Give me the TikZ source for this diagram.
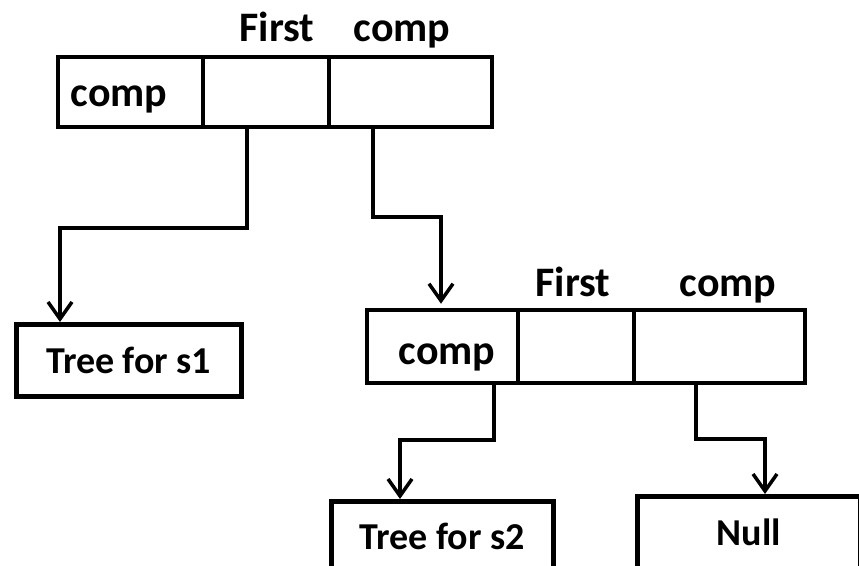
\documentclass[tikz,border=0pt]{standalone}
\usepackage{fontspec}
\setmainfont{Carlito}
\usetikzlibrary{arrows.meta,positioning,fit}

\begin{document}
\begin{tikzpicture}[
  x=1pt,y=-1pt,
  cell/.style={rectangle,inner sep=0pt,outer sep=0pt},
  rec/.style={rectangle,draw,line width=4.5pt,inner sep=0pt},
  sep/.style={line width=3.5pt},
  box/.style={rectangle,draw,line width=4.5pt,inner sep=0pt,anchor=north west,font=\fontsize{38}{41}\selectfont\bfseries},
  lbl/.style={font=\fontsize{42}{46}\selectfont\bfseries,inner sep=0pt,anchor=base},
  link/.style={-{Straight Barb[length=17pt,width=24pt]},line width=3.5pt}
]
  \useasboundingbox (0,0) rectangle (859,565);

  % first record: comp | First | comp
  \node[cell,minimum width=145,minimum height=70,anchor=north west] (r1a) at (58,57) {};
  \node[cell,minimum width=126,minimum height=70,right=0pt of r1a] (r1b) {};
  \node[cell,minimum width=163,minimum height=70,right=0pt of r1b] (r1c) {};
  \node[rec,fit=(r1a)(r1c)] (r1) {};
  \draw[sep] (r1a.north east) -- (r1a.south east);
  \draw[sep] (r1b.north east) -- (r1b.south east);
  \node[lbl] (r1name) at (119,106) {comp};
  \node[lbl] (r1first) at (277,41) {First};
  \node[lbl] (r1next) at (402,41) {comp};

  % second record
  \node[cell,minimum width=151,minimum height=73,anchor=north west] (r2a) at (367,310) {};
  \node[cell,minimum width=116,minimum height=73,right=0pt of r2a] (r2b) {};
  \node[cell,minimum width=171,minimum height=73,right=0pt of r2b] (r2c) {};
  \node[rec,fit=(r2a)(r2c)] (r2) {};
  \draw[sep] (r2a.north east) -- (r2a.south east);
  \draw[sep] (r2b.north east) -- (r2b.south east);
  \node[lbl] (r2name) at (447,364) {comp};
  \node[lbl] (r2first) at (573,296) {First};
  \node[lbl] (r2next) at (728,296) {comp};

  % leaves
  \node[box,minimum width=225,minimum height=72] (t1) at (14,322) {Tree for s1};
  \node[box,minimum width=222,minimum height=71] (t2) at (329,499) {Tree for s2};
  \node[box,minimum width=223,minimum height=72] (nl) at (635,494) {Null};

  % bends of the pointers
  \coordinate (j1) at (247,228);
  \coordinate (j2) at (60,228);
  \coordinate (j3) at (373,217);
  \coordinate (j4) at (441,217);
  \coordinate (j5) at (494,440);
  \coordinate (j6) at (400,440);
  \coordinate (j7) at (696,439);
  \coordinate (j8) at (765,439);

  \draw[link] (r1.south -| j1) -- (j1) -- (j2) -- (j2 |- t1.north);
  \draw[link] (r1.south -| j3) -- (j3) -- (j4) -- ([yshift=4pt]j4 |- r2.north);
  \draw[link] (r2.south -| j5) -- (j5) -- (j6) -- (j6 |- t2.north);
  \draw[link] (r2.south -| j7) -- (j7) -- (j8) -- (j8 |- nl.north);
\end{tikzpicture}
\end{document}
